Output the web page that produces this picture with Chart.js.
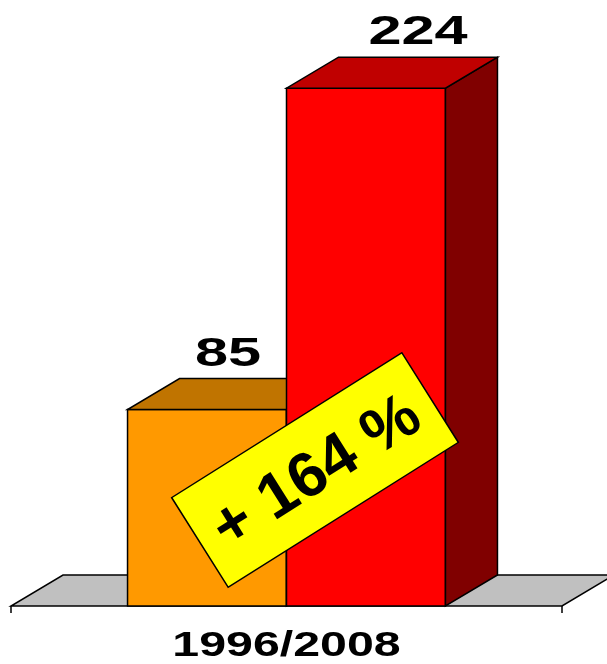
<!DOCTYPE html>
<html>
<head>
<meta charset="utf-8">
<script src="https://cdn.jsdelivr.net/npm/chart.js@4.4.0/dist/chart.umd.min.js"></script>
<style>
  html, body { margin: 0; padding: 0; background: #fff; }
  #wrap { width: 607px; height: 664px; }
</style>
</head>
<body>
<div id="wrap"><canvas id="chart" width="607" height="664"></canvas></div>
<script>
// data
const categories = ["1996/2008"];
const seriesNames = ["1996", "2008"];
const values1996 = [85];
const values2008 = [224];

// colours per series: front, top, side
const frontColors = ["#FF9900", "#FF0000"];
const topColors   = ["#C07400", "#C00000"];
const sideColors  = ["#9A5D00", "#800000"];

const DEPTH_X = 52, DEPTH_Y = -31;

function poly(ctx, pts, fill) {
  ctx.beginPath();
  ctx.moveTo(pts[0][0], pts[0][1]);
  for (let i = 1; i < pts.length; i++) ctx.lineTo(pts[i][0], pts[i][1]);
  ctx.closePath();
  ctx.fillStyle = fill;
  ctx.fill();
  ctx.stroke();
}

function stretchedText(ctx, text, x, y, size, sx) {
  ctx.save();
  ctx.translate(x, y);
  ctx.scale(sx, 1);
  ctx.font = "bold " + size + "px 'Liberation Sans', Arial, sans-serif";
  ctx.fillStyle = "#000";
  ctx.textAlign = "center";
  ctx.textBaseline = "alphabetic";
  ctx.fillText(text, 0, 0);
  ctx.restore();
}

// floor, 3d faces, value labels and the growth tag
const box3d = {
  id: "box3d",
  beforeDatasetsDraw(chart) {
    const { ctx, chartArea: a } = chart;
    const yb = chart.scales.y.getPixelForValue(0);
    ctx.save();
    ctx.lineWidth = 1.5;
    ctx.strokeStyle = "#000";
    ctx.lineJoin = "miter";
    poly(ctx, [[a.left, yb], [a.right, yb], [a.right + DEPTH_X, yb + DEPTH_Y], [a.left + DEPTH_X, yb + DEPTH_Y]], "#C0C0C0");
    ctx.beginPath();
    ctx.moveTo(a.left, yb); ctx.lineTo(a.left, yb + 7);
    ctx.moveTo(a.right, yb); ctx.lineTo(a.right, yb + 7);
    ctx.stroke();
    ctx.restore();
  },
  afterDatasetsDraw(chart, args, opts) {
    const { ctx } = chart;
    ctx.save();
    ctx.lineWidth = 1.5;
    ctx.strokeStyle = "#000";
    ctx.lineJoin = "miter";
    const bars = [];
    chart.data.datasets.forEach((ds, i) => {
      chart.getDatasetMeta(i).data.forEach((el) => {
        const p = el.getProps(["x", "y", "base", "width"], true);
        const l = p.x - p.width / 2, r = p.x + p.width / 2;
        bars.push({ p, i, value: ds.data[0] });
        ctx.beginPath();
        ctx.rect(l, p.y, p.width, p.base - p.y);
        ctx.fillStyle = frontColors[i];
        ctx.fill();
        ctx.stroke();
        poly(ctx, [[r, p.y], [r + DEPTH_X, p.y + DEPTH_Y], [r + DEPTH_X, p.base + DEPTH_Y], [r, p.base]], sideColors[i]);
        poly(ctx, [[l, p.y], [r, p.y], [r + DEPTH_X, p.y + DEPTH_Y], [l + DEPTH_X, p.y + DEPTH_Y]], topColors[i]);
      });
    });
    ctx.restore();

    // value labels above the bars
    bars.forEach((b) => {
      stretchedText(ctx, String(b.value), b.p.x + opts.labelShift[b.i], b.p.y - 44, 41, 1.45);
    });

    // category label under the floor
    const xs = chart.scales.x;
    stretchedText(ctx, categories[0], xs.getPixelForValue(0), chart.chartArea.bottom + 50, 35, 1.38);

    // growth tag
    const pct = Math.round((values2008[0] - values1996[0]) / values1996[0] * 100);
    const t = opts.tag;
    ctx.save();
    ctx.translate(t.x, t.y);
    ctx.rotate(t.angle * Math.PI / 180);
    ctx.fillStyle = "#FFFF00";
    ctx.strokeStyle = "#000";
    ctx.lineWidth = 1.5;
    ctx.beginPath();
    ctx.rect(-t.w / 2, -t.h / 2, t.w, t.h);
    ctx.fill();
    ctx.stroke();
    ctx.fillStyle = "#000";
    ctx.font = "bold 63px 'Liberation Sans', Arial, sans-serif";
    ctx.textAlign = "center";
    ctx.textBaseline = "middle";
    ctx.fillText("+ " + pct + " %", 0, 4);
    ctx.restore();
  }
};

new Chart(document.getElementById("chart"), {
  type: "bar",
  data: {
    labels: categories,
    datasets: [
      { label: seriesNames[0], data: values1996, backgroundColor: frontColors[0], borderColor: "#000", borderWidth: 1.5 },
      { label: seriesNames[1], data: values2008, backgroundColor: frontColors[1], borderColor: "#000", borderWidth: 1.5 }
    ]
  },
  options: {
    responsive: false,
    animation: false,
    layout: { padding: { left: 11, right: 45, top: 5, bottom: 58 } },
    datasets: { bar: { categoryPercentage: 0.577, barPercentage: 1 } },
    plugins: {
      legend: { display: false },
      tooltip: { enabled: false },
      box3d: {
        labelShift: [21, 52],
        tag: { x: 315, y: 470, w: 272, h: 106, angle: -32.2 }
      }
    },
    scales: {
      x: { display: false },
      y: { display: false, min: 0, max: 260 }
    }
  },
  plugins: [box3d]
});
</script>
</body>
</html>
